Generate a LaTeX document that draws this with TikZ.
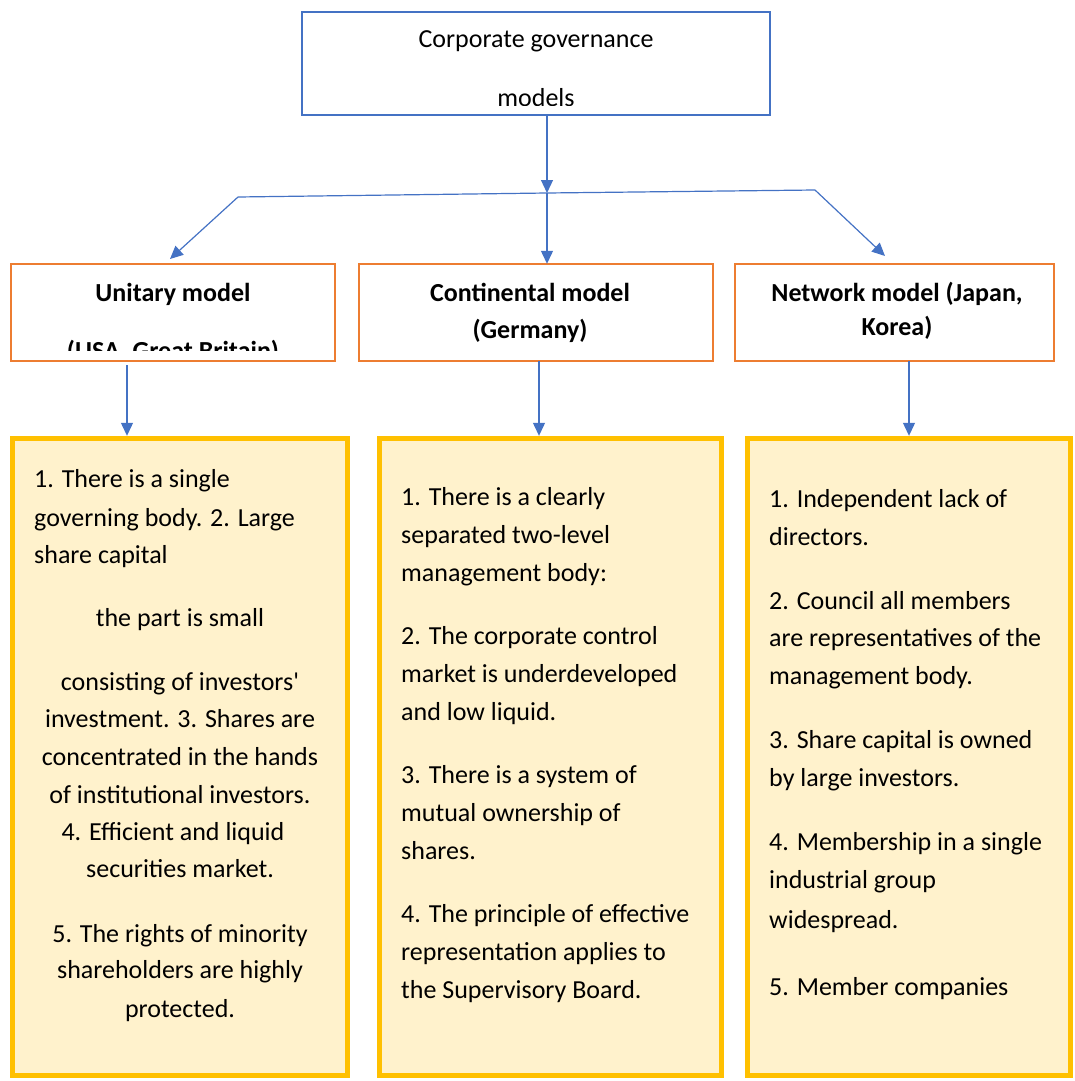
\documentclass[tikz,border=0pt]{standalone}
\usepackage{fontspec}
\setmainfont{Carlito}[Ligatures=TeXOff]
\usetikzlibrary{arrows.meta}
\definecolor{cblue}{HTML}{4472C4}
\definecolor{corange}{HTML}{ED7D31}
\definecolor{cgold}{HTML}{FFC000}
\definecolor{cfill}{HTML}{FFF2CC}
\begin{document}
\begin{tikzpicture}[x=1pt,y=-1pt,
  topbox/.style={draw=cblue,line width=2pt,fill=white},
  modelbox/.style={draw=corange,line width=2pt,fill=white},
  listbox/.style={draw=cgold,line width=5pt,fill=cfill},
  txt/.style={inner sep=0pt,anchor=base,font=\fontsize{26}{30}\selectfont},
  btxt/.style={inner sep=0pt,anchor=base,font=\fontsize{26}{30}\selectfont\bfseries},
  ltxt/.style={txt,anchor=base west},
  arr/.style={draw=cblue,line width=1.2pt,-{Triangle[length=13pt,width=12pt]}},
  ln/.style={draw=cblue,line width=1.2pt}]
\useasboundingbox (0,0) rectangle (1075,1081);
% boxes
\path[topbox] (302,12) rectangle (770,115);
\node[inner sep=0pt,minimum width=468pt,minimum height=103pt] (top) at (536,63.5) {};
\path[modelbox] (11,264) rectangle (335,361);
\node[inner sep=0pt,minimum width=324pt,minimum height=97pt] (uni) at (173,312.5) {};
\path[modelbox] (359,264) rectangle (713,361);
\node[inner sep=0pt,minimum width=354pt,minimum height=97pt] (con) at (536,312.5) {};
\path[modelbox] (735,264) rectangle (1054,361);
\node[inner sep=0pt,minimum width=319pt,minimum height=97pt] (net) at (894.5,312.5) {};
\path[listbox] (12.5,438.5) rectangle (347.5,1075.5);
\node[inner sep=0pt,minimum width=340pt,minimum height=642pt] (la) at (180,757) {};
\path[listbox] (379.5,438.5) rectangle (721.5,1075.5);
\node[inner sep=0pt,minimum width=347pt,minimum height=642pt] (lb) at (550.5,757) {};
\path[listbox] (747.5,438.5) rectangle (1070.5,1075.5);
\node[inner sep=0pt,minimum width=328pt,minimum height=642pt] (lc) at (909,757) {};
% titles
\node[txt] (t1) at (536,48) {Corporate governance};
\begin{scope}
\clip (303,13) rectangle (769,105);
\node[txt] (t2) at (536,106) {models};
\end{scope}
\node[btxt] (u1) at (173,301) {Unitary model};
\begin{scope}
\clip (12,265) rectangle (334,350);
\node[btxt] (u2) at (173,359) {(USA, Great Britain)};
\end{scope}
\node[btxt] (c1) at (530,301) {Continental model};
\node[btxt] (c2) at (530,338) {(Germany)};
\node[btxt] (n1) at (897,301) {Network model (Japan,};
\node[btxt] (n2) at (897,335) {Korea)};
% connectors
\coordinate (hl) at (238,197);
\coordinate (hm) at (547,193);
\coordinate (hr) at (815,190);
\draw[arr] (top.south -| hm) -- (hm);
\draw[ln] (hl) -- (hm) -- (hr);
\draw[arr] (hm) -- (hm |- con.north);
\draw[arr] (hl) -- (170,259);
\draw[arr] (hr) -- (885,256);
\draw[arr] ([xshift=-46pt]uni.south) ++(0,4) -- ([xshift=-53pt]la.north);
\draw[arr] ([xshift=3pt]con.south) -- ([xshift=-11.5pt]lb.north);
\draw[arr] ([xshift=14.5pt]net.south) -- (lc.north);
% list A
\node[ltxt] (a1) at (34,487) {1. There is a single};
\node[ltxt] (a2) at (34,526) {governing body. 2. Large};
\node[ltxt] (a3) at (34,563) {share capital};
\node[txt] (a4) at (180,626) {the part is small};
\node[txt] (a5) at (180,690) {consisting of investors'};
\node[txt] (a6) at (180,727) {investment. 3. Shares are};
\node[txt] (a7) at (180,765) {concentrated in the hands};
\node[txt] (a8) at (180,803) {of institutional investors.};
\node[txt] (a9) at (173,840) {4. Efficient and liquid};
\node[txt] (a10) at (180,877) {securities market.};
\node[txt] (a11) at (180,942) {5. The rights of minority};
\node[txt] (a12) at (180,978) {shareholders are highly};
\node[txt] (a13) at (180,1017) {protected.};
% list B
\node[ltxt] (b1) at (401,505) {1. There is a clearly};
\node[ltxt] (b2) at (401,543) {separated two-level};
\node[ltxt] (b3) at (401,581) {management body:};
\node[ltxt] (b4) at (401,644) {2. The corporate control};
\node[ltxt] (b5) at (401,682) {market is underdeveloped};
\node[ltxt] (b6) at (401,720) {and low liquid.};
\node[ltxt] (b7) at (401,783) {3. There is a system of};
\node[ltxt] (b8) at (401,821) {mutual ownership of};
\node[ltxt] (b9) at (401,859) {shares.};
\node[ltxt] (b10) at (401,922) {4. The principle of effective};
\node[ltxt] (b11) at (401,960) {representation applies to};
\node[ltxt] (b12) at (401,998) {the Supervisory Board.};
% list C
\node[ltxt] (d1) at (769,507) {1. Independent lack of};
\node[ltxt] (d2) at (769,545) {directors.};
\node[ltxt] (d3) at (769,609) {2. Council all members};
\node[ltxt] (d4) at (769,646) {are representatives of the};
\node[ltxt] (d5) at (769,684) {management body.};
\node[ltxt] (d6) at (769,748) {3. Share capital is owned};
\node[ltxt] (d7) at (769,786) {by large investors.};
\node[ltxt] (d8) at (769,850) {4. Membership in a single};
\node[ltxt] (d9) at (769,888) {industrial group};
\node[ltxt] (d10) at (769,928) {widespread.};
\node[ltxt] (d11) at (769,995) {5. Member companies};
\end{tikzpicture}
\end{document}
